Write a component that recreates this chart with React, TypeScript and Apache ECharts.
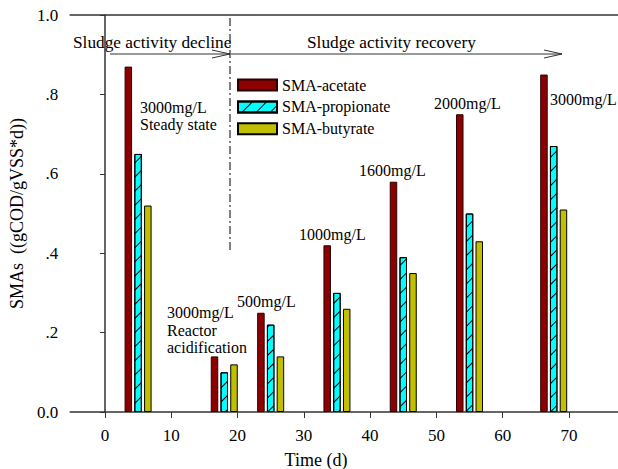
import React, { useEffect, useRef } from "react";
import * as echarts from "echarts";

// Day at which each group of bars is centred (propionate bar)
const days = [5, 18, 25, 35, 45, 55, 67.7];
const acetate = [0.87, 0.14, 0.25, 0.42, 0.58, 0.75, 0.85];
const propionate = [0.65, 0.1, 0.22, 0.3, 0.39, 0.5, 0.67];
const butyrate = [0.52, 0.12, 0.14, 0.26, 0.35, 0.43, 0.51];
const seriesNames = ["SMA-acetate", "SMA-propionate", "SMA-butyrate"];
const xTicks = [0, 10, 20, 30, 40, 50, 60, 70];
const yTickLabels = ["0.0", ".2", ".4", ".6", ".8", "1.0"];

const FONT = "Liberation Serif";

export default function App() {
  const ref = useRef<HTMLDivElement>(null);
  useEffect(() => {
    if (!ref.current) return;
    const chart = echarts.init(ref.current, null, { renderer: "svg" });
    const toData = (vals: number[]) => days.map((d, i) => [d, vals[i]]);
    const txt = (text: string, x: number, y: number, size = 16, extra: any = {}) => ({
      type: "text",
      x,
      y,
      style: {
        text,
        fill: "#000",
        font: `${size}px "${FONT}"`,
        textVerticalAlign: "middle",
        ...extra,
      },
    });
    const axisLine = { show: true, lineStyle: { color: "#333", width: 1.5 } };
    chart.setOption({
      animation: false,
      textStyle: { fontFamily: FONT },
      grid: { left: 68, right: 0, top: 15, bottom: 57, containLabel: false },
      legend: {
        data: seriesNames,
        orient: "vertical",
        left: 237,
        top: 77,
        padding: 0,
        itemWidth: 39,
        itemHeight: 11,
        itemGap: 5.9,
        icon: "rect",
        textStyle: { fontFamily: FONT, fontSize: 16, color: "#000" },
      },
      xAxis: [
        {
          type: "value",
          min: -5.25,
          max: 77.4,
          axisLine,
          axisTick: { show: true, customValues: xTicks, length: 6, lineStyle: { color: "#333" } },
          axisLabel: { customValues: xTicks, fontSize: 17, color: "#000", fontFamily: FONT, margin: 15 },
          splitLine: { show: false },
        },
        {
          type: "value",
          position: "top",
          min: -5.25,
          max: 77.4,
          axisLine,
          axisTick: { show: false },
          axisLabel: { show: false },
          splitLine: { show: false },
        },
      ],
      yAxis: {
        type: "value",
        min: 0,
        max: 1,
        interval: 0.2,
        name: "SMAs  ((gCOD/gVSS*d))",
        nameLocation: "middle",
        nameGap: 38,
        nameTextStyle: { fontSize: 18, color: "#000", fontFamily: FONT },
        axisLine,
        axisTick: { show: true, length: 5, lineStyle: { color: "#333" } },
        axisLabel: {
          fontSize: 17,
          color: "#000",
          fontFamily: FONT,
          margin: 12,
          formatter: (v: number) => yTickLabels[Math.round(v * 5)],
        },
        splitLine: { show: false },
      },
      series: [
        {
          name: seriesNames[0],
          type: "bar",
          barWidth: 7.5,
          barGap: "30%",
          data: toData(acetate),
          itemStyle: {
            color: "#8b0000",
            borderColor: "#2a0000",
            borderWidth: 1,
          },
        },
        {
          name: seriesNames[1],
          type: "bar",
          barWidth: 7.5,
          barGap: "30%",
          data: toData(propionate),
          itemStyle: {
            color: "#00ffff",
            borderColor: "#000",
            borderWidth: 1,
            decal: {
              symbol: "rect",
              symbolSize: 1,
              color: "#000",
              dashArrayX: [1, 0],
              dashArrayY: [1, 9],
              rotation: -Math.PI / 4,
            },
          },
        },
        {
          name: seriesNames[2],
          type: "bar",
          barWidth: 7.5,
          barGap: "30%",
          data: toData(butyrate),
          itemStyle: { color: "#c0c000", borderColor: "#000", borderWidth: 1 },
        },
      ],
      graphic: [
        txt("Sludge activity decline", 73, 42, 17.3),
        txt("Sludge activity recovery", 307, 42, 17.3),
        { type: "line", shape: { x1: 110, y1: 54, x2: 230, y2: 54 }, style: { stroke: "#333", lineWidth: 1 } },
        { type: "polyline", shape: { points: [[212, 50], [230, 54], [212, 58]] }, style: { stroke: "#333", lineWidth: 1, fill: null } },
        { type: "line", shape: { x1: 231, y1: 54, x2: 562, y2: 54 }, style: { stroke: "#333", lineWidth: 1 } },
        { type: "polyline", shape: { points: [[544, 50], [562, 54], [544, 58]] }, style: { stroke: "#333", lineWidth: 1, fill: null } },
        { type: "line", shape: { x1: 230, y1: 18, x2: 230, y2: 250 }, style: { stroke: "#000", lineWidth: 1, lineDash: [8, 3, 2, 3] } },
        txt("3000mg/L", 140, 107),
        txt("Steady state", 140, 124),
        txt("3000mg/L", 167, 312),
        txt("Reactor", 167, 330),
        txt("acidification", 167, 347),
        txt("500mg/L", 237, 301),
        txt("1000mg/L", 299, 234),
        txt("1600mg/L", 359, 170),
        txt("2000mg/L", 434, 103),
        txt("3000mg/L", 550, 99),
        txt("Time (d)", 316, 460, 18, { textAlign: "center" }),
      ],
    });
    return () => chart.dispose();
  }, []);
  return (
    <div
      ref={ref}
      style={{ position: "absolute", left: 0, top: 0, width: 618, height: 469, background: "#fff" }}
    />
  );
}
